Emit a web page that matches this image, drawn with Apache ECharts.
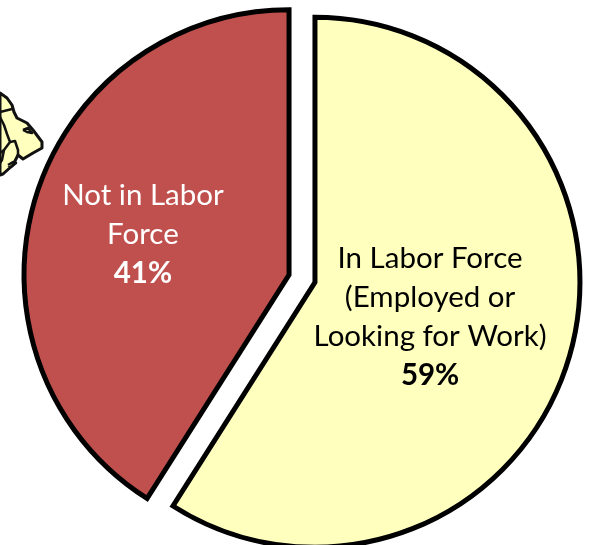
<!DOCTYPE html>
<html><head><meta charset="utf-8">
<style>html,body{margin:0;padding:0;background:#fff}#c{width:589px;height:545px}</style>
<script src="https://cdn.jsdelivr.net/npm/echarts@6/dist/echarts.min.js"></script>
</head><body><div id="c"></div>
<script>
const categories = ['In Labor Force\n(Employed or\nLooking for Work)', 'Not in Labor\nForce'];
const values = [59, 41];
const colors = ['#FFFFBE', '#C0504D'];
const labelColors = ['#000000', '#FFFFFF'];
const labelShifts = [[-15, -3], [-16, -2]];

const chart = echarts.init(document.getElementById('c'), null, {renderer: 'canvas'});
const mapOutline = [[0,93],[7,98],[12,105],[14,112],[17,118],[27,123],[33,130],[42,142],[42,148],[33,153],[23,159],[18,155],[13,165],[3,174],[0,175]];
const mapLines = [
  [[0,112],[12,109]],
  [[0,117],[4,125],[7,134],[10,142],[4,150],[0,153]],
  [[10,142],[15,141],[18,150],[18,155]],
  [[4,150],[2,160],[0,163]],
  [[23,130],[28,128],[32,133],[27,132],[23,130]],
  [[8,165],[13,162],[16,163],[11,167],[8,165]]
];
chart.setOption({
  animation: false,
  backgroundColor: '#fff',
  graphic: [
    {type:'polygon', z:1, shape:{points:mapOutline}, style:{fill:'#FFFFBE', stroke:'#111', lineWidth:3, lineJoin:'round'}}
  ].concat(mapLines.map(p => ({type:'polyline', z:2, shape:{points:p}, style:{fill:null, stroke:'#111', lineWidth:2.5, lineJoin:'round'}}))),
  series: [{
    type: 'pie',
    center: [302, 278.5],
    radius: [0, 265],
    startAngle: 90,
    clockwise: true,
    selectedMode: 'multiple',
    selectedOffset: 13.5,
    emphasis: {disabled: true},
    labelLine: {show: false},
    labelLayout: params => ({dx: labelShifts[params.dataIndex][0], dy: labelShifts[params.dataIndex][1]}),
    itemStyle: {borderColor: '#000', borderWidth: 5, borderJoin: 'miter'},
    data: categories.map((name, i) => ({
      name, value: values[i], selected: true,
      itemStyle: {color: colors[i]},
      label: {
        show: true, position: 'inside',
        formatter: '{a|{b}}\n{p|' + values[i] + '%}',
        rich: {
          a: {fontFamily: 'Lato', fontSize: 29.5, lineHeight: 39, color: labelColors[i], align: 'center'},
          p: {fontFamily: 'Lato', fontSize: 29.5, lineHeight: 39, fontWeight: 'bold', color: labelColors[i], align: 'center'}
        }
      }
    }))
  }]
});
</script></body></html>
